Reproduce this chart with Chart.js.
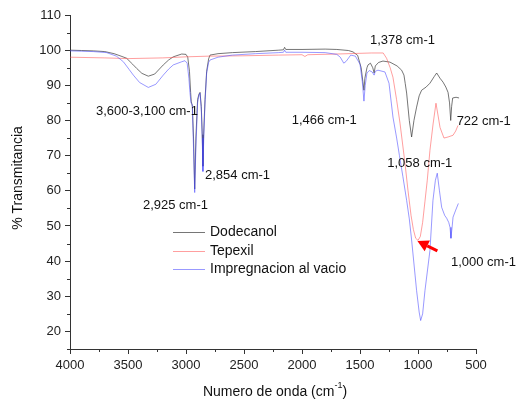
<!DOCTYPE html>
<html>
<head>
<meta charset="utf-8">
<script src="https://cdn.jsdelivr.net/npm/chart.js@4.4.1/dist/chart.umd.min.js"></script>
<style>
  html, body { margin: 0; padding: 0; background: #fff; }
  #wrap { width: 518px; height: 400px; }
</style>
</head>
<body>
<div id="wrap"><canvas id="irChart" width="518" height="400"></canvas></div>
<script>
// Axis ticks
const xTicks = [4000, 3500, 3000, 2500, 2000, 1500, 1000, 500];
const xMinorTicks = [3750, 3250, 2750, 2250, 1750, 1250, 750];
const yTicks = [20, 30, 40, 50, 60, 70, 80, 90, 100, 110];
const yMinorTicks = [15, 25, 35, 45, 55, 65, 75, 85, 95, 105];

// Dodecanol spectrum
const dodecanolX = [4000, 3900, 3800, 3700, 3620, 3560, 3512, 3460, 3425, 3380, 3325, 3270, 3196, 3150, 3110, 3037, 3000,
  2985, 2970, 2960, 2955, 2945, 2935, 2925, 2915, 2900, 2888, 2879, 2868, 2860, 2854, 2848, 2836, 2822, 2805, 2793, 2724,
  2600, 2400, 2200, 2160, 2150, 2140, 2000, 1800, 1700, 1600, 1560, 1520, 1490, 1475, 1466, 1458, 1440, 1431, 1410, 1390,
  1378, 1368, 1340, 1302, 1242, 1180, 1141, 1121, 1110, 1098, 1075, 1055, 1035, 1012, 990, 969, 930, 897, 860, 839, 810,
  784, 760, 741, 728, 718, 710, 701, 672, 646];
const dodecanolY = [100.0, 99.9, 99.8, 99.6, 99.0, 98.3, 97.7, 96.0, 94.8, 93.4, 92.6, 93.2, 95.8, 97.2, 98.1, 98.9, 98.8,
  98.0, 94, 88, 85.5, 84, 75, 60.5, 75, 86, 87.5, 88, 84, 76, 67, 76, 86, 94, 97.5, 98.6, 99.0,
  99.3, 99.6, 100.0, 100.1, 100.8, 100.2, 100.2, 100.3, 100.2, 99.9, 99.5, 98.5, 95, 91, 88.6, 92, 95, 95.8, 96.3, 95,
  93.5, 95.5, 96.5, 96.9, 96.6, 95.5, 94.3, 92.9, 90.5, 87.8, 80, 75.3, 80, 83.8, 87, 88.6, 89.5, 90.6, 92.5, 93.5, 92,
  90.9, 89.5, 88, 85, 80, 84, 86.4, 86.6, 86.4];

// Tepexil spectrum
const tepexilX = [4000, 3700, 3500, 3200, 3000, 2800, 2500, 2200, 2000, 1975, 1950, 1700, 1500, 1400, 1300, 1271, 1240, 1216,
  1185, 1155, 1112, 1086, 1060, 1040, 1020, 1000, 980, 960, 940, 920, 897, 870, 845, 825, 810, 776, 741, 698, 675, 655];
const tepexilY = [98.0, 97.8, 97.6, 97.8, 98.1, 98.3, 98.4, 98.6, 98.7, 98.2, 98.7, 98.9, 99.1, 99.2, 99.2, 97.7, 95, 92.3,
  86, 79.2, 67.8, 60, 53, 49, 46.5, 45.9, 47, 51, 57, 63, 71.5, 79, 84.9, 81, 78, 75, 75.3, 75.8, 77, 78.6];

// Impregnacion al vacio spectrum
const impregX = [4000, 3900, 3800, 3684, 3600, 3540, 3490, 3454, 3400, 3325, 3260, 3196, 3150, 3110, 3037, 3009,
  2990, 2975, 2966, 2957, 2946, 2935, 2925, 2915, 2900, 2888, 2879, 2868, 2860, 2854, 2847, 2836, 2822, 2805, 2793, 2724,
  2600, 2400, 2200, 2160, 2150, 2140, 2000, 1800, 1700, 1670, 1640, 1620, 1580, 1540, 1500, 1480, 1466, 1455, 1440, 1420,
  1395, 1378, 1368, 1345, 1285, 1250, 1216, 1184, 1160, 1130, 1098, 1075, 1055, 1012, 990, 977, 960, 940, 897, 871, 850,
  834, 815, 796, 770, 753, 735, 724, 716, 705, 698, 675, 652];
const impregY = [99.8, 99.7, 99.6, 99.3, 98.3, 96.7, 94.5, 92.9, 90.8, 89.4, 90.3, 92.9, 94.6, 95.8, 96.7, 97.0,
  96.3, 92, 88, 85, 84.5, 72, 59.5, 72, 85, 87.2, 87.8, 83, 75, 65.5, 75, 85, 93.5, 96.5, 97.2, 98.0,
  98.6, 99.0, 99.3, 99.4, 100.0, 99.4, 99.4, 99.3, 98.8, 98, 96.3, 96.8, 98.6, 98.3, 96, 91, 85.5, 90, 93.5, 94.2,
  93.8, 92.9, 94, 94.3, 93.8, 90.6, 81, 75, 70, 64, 57.3, 52, 46, 31.6, 25.5, 23.1, 25, 31.6, 43, 57.3, 63,
  65, 60, 55.3, 53, 52.2, 51, 49.6, 46.5, 50, 52.5, 54.5, 56.4];

// Peak labels (anchored in data coordinates)
const peakLabels = ['3,600-3,100 cm-1', '2,925 cm-1', '2,854 cm-1', '1,466 cm-1', '1,378 cm-1', '722 cm-1', '1,058 cm-1', '1,000 cm-1'];
const peakLabelX = [3776, 3371, 2836, 2089, 1414, 667, 1265, 716];
const peakLabelY = [82.6, 55.9, 64.4, 79.9, 102.9, 79.6, 67.7, 39.7];

const seriesNames = ['Dodecanol', 'Tepexil', 'Impregnacion al vacio'];
const seriesColors = ['rgba(60, 60, 60, 0.7)', 'rgba(255, 80, 80, 0.55)', 'rgba(70, 70, 255, 0.55)'];

const FONT = '"Liberation Sans", Arial, sans-serif';

function toPoints(xs, ys) {
    return xs.map((v, i) => ({ x: v, y: ys[i] }));
}

// Extra drawing: minor ticks, labels, arrow, legend and axis titles
const extrasPlugin = {
    id: 'extras',
    afterDraw(chart) {
        const ctx = chart.ctx;
        const area = chart.chartArea;
        const xs = chart.scales.x;
        const ys = chart.scales.y;
        ctx.save();

        // minor ticks
        ctx.strokeStyle = '#333';
        ctx.lineWidth = 1;
        ctx.beginPath();
        xMinorTicks.forEach(v => {
            const px = Math.round(xs.getPixelForValue(v)) + 0.5;
            ctx.moveTo(px, area.bottom);
            ctx.lineTo(px, area.bottom + 3);
        });
        yMinorTicks.forEach(v => {
            const py = Math.round(ys.getPixelForValue(v)) + 0.5;
            ctx.moveTo(area.left, py);
            ctx.lineTo(area.left - 3, py);
        });
        ctx.stroke();

        // peak labels
        ctx.fillStyle = '#111';
        ctx.font = '13px ' + FONT;
        ctx.textAlign = 'left';
        ctx.textBaseline = 'middle';
        peakLabels.forEach((t, i) => {
            ctx.fillText(t, xs.getPixelForValue(peakLabelX[i]), ys.getPixelForValue(peakLabelY[i]));
        });

        // red arrow pointing at the Tepexil minimum
        const tipX = xs.getPixelForValue(1005), tipY = ys.getPixelForValue(45.7);
        const tailX = xs.getPixelForValue(833), tailY = ys.getPixelForValue(42.9);
        const ang = Math.atan2(tipY - tailY, tipX - tailX);
        const headLen = 11, headW = 6;
        const baseX = tipX - headLen * Math.cos(ang), baseY = tipY - headLen * Math.sin(ang);
        ctx.strokeStyle = '#f00';
        ctx.fillStyle = '#f00';
        ctx.lineWidth = 3;
        ctx.beginPath();
        ctx.moveTo(tailX, tailY);
        ctx.lineTo(baseX, baseY);
        ctx.stroke();
        ctx.beginPath();
        ctx.moveTo(tipX, tipY);
        ctx.lineTo(baseX + headW * Math.sin(ang), baseY - headW * Math.cos(ang));
        ctx.lineTo(baseX - headW * Math.sin(ang), baseY + headW * Math.cos(ang));
        ctx.closePath();
        ctx.fill();

        // legend
        const lx = area.left + 103, ly = area.top + 217;
        ctx.font = '14px ' + FONT;
        ctx.lineWidth = 1;
        seriesNames.forEach((name, i) => {
            const yy = Math.round(ly + i * 18.5) + 0.5;
            ctx.strokeStyle = seriesColors[i];
            ctx.beginPath();
            ctx.moveTo(lx, yy);
            ctx.lineTo(lx + 32, yy);
            ctx.stroke();
            ctx.fillStyle = '#111';
            ctx.fillText(name, lx + 37, yy);
        });

        // y axis title
        ctx.fillStyle = '#111';
        ctx.font = '14px ' + FONT;
        ctx.textAlign = 'center';
        ctx.save();
        ctx.translate(18, (area.top + area.bottom) / 2 - 4);
        ctx.rotate(-Math.PI / 2);
        ctx.fillText('% Transmitancia', 0, 0);
        ctx.restore();

        // x axis title with superscript
        const main = 'Numero de onda (cm';
        const sup = '-1';
        const end = ')';
        ctx.font = '14px ' + FONT;
        const w1 = ctx.measureText(main).width;
        const w3 = ctx.measureText(end).width;
        ctx.font = '9px ' + FONT;
        const w2 = ctx.measureText(sup).width;
        let tx = (area.left + area.right) / 2 - (w1 + w2 + w3) / 2 + 2;
        const ty = 392;
        ctx.textAlign = 'left';
        ctx.font = '14px ' + FONT;
        ctx.fillText(main, tx, ty);
        ctx.font = '9px ' + FONT;
        ctx.fillText(sup, tx + w1, ty - 6);
        ctx.font = '14px ' + FONT;
        ctx.fillText(end, tx + w1 + w2, ty);

        ctx.restore();
    }
};

const irChart = new Chart(document.getElementById('irChart').getContext('2d'), {
    type: 'line',
    data: {
        datasets: [
            { label: seriesNames[0], data: toPoints(dodecanolX, dodecanolY), borderColor: seriesColors[0], order: 2 },
            { label: seriesNames[1], data: toPoints(tepexilX, tepexilY), borderColor: seriesColors[1], order: 1 },
            { label: seriesNames[2], data: toPoints(impregX, impregY), borderColor: seriesColors[2], order: 0 }
        ]
    },
    options: {
        responsive: false,
        animation: false,
        devicePixelRatio: 1,
        layout: { padding: { left: 0, right: 42, top: 15, bottom: 0 } },
        elements: {
            point: { radius: 0 },
            line: { borderWidth: 1, tension: 0, fill: false }
        },
        plugins: {
            legend: { display: false },
            tooltip: { enabled: false }
        },
        scales: {
            x: {
                type: 'linear',
                reverse: true,
                min: 500,
                max: 4000,
                afterBuildTicks: s => { s.ticks = xTicks.map(v => ({ value: v })); },
                afterFit: s => { s.height = 51; },
                grid: { drawOnChartArea: false, tickLength: 5, color: '#333' },
                border: { display: true, color: '#333', width: 1 },
                ticks: {
                    color: '#222',
                    font: { family: FONT, size: 13 },
                    padding: 4,
                    maxRotation: 0,
                    callback: value => String(value)
                }
            },
            y: {
                min: 15,
                max: 110,
                afterBuildTicks: s => { s.ticks = yTicks.map(v => ({ value: v })); },
                afterFit: s => { s.width = 70; },
                grid: { drawOnChartArea: false, tickLength: 5, color: '#333' },
                border: { display: true, color: '#333', width: 1 },
                ticks: {
                    color: '#222',
                    font: { family: FONT, size: 13 },
                    padding: 4,
                    callback: value => String(value)
                }
            }
        }
    },
    plugins: [extrasPlugin]
});
</script>
</body>
</html>
